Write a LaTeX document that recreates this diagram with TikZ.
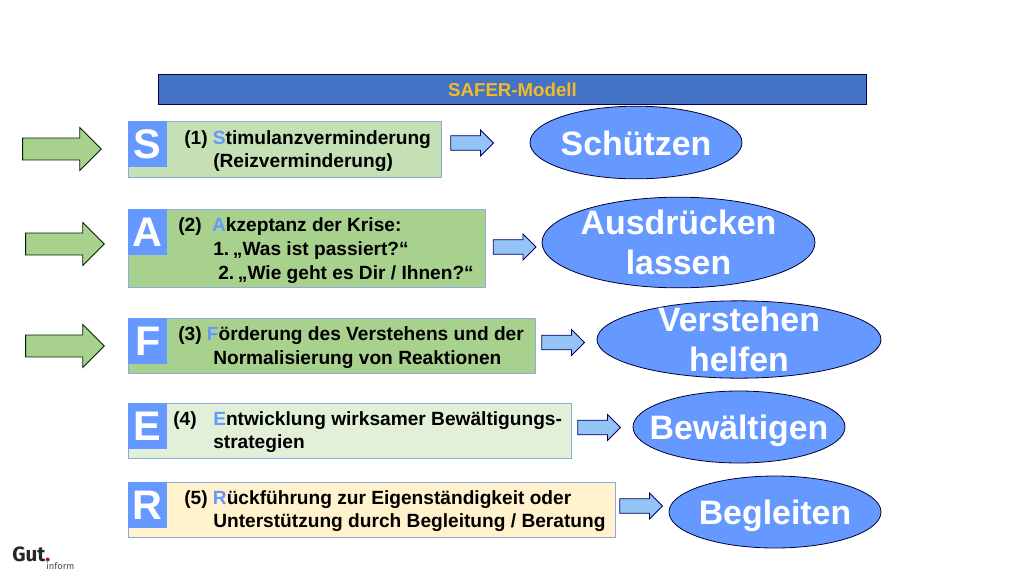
\documentclass[tikz,border=0pt]{standalone}
\usepackage{fontspec}
\setmainfont{Liberation Sans}
\newfontfamily\logofont{Fira Sans}
\usetikzlibrary{shapes.geometric,shapes.arrows}
\definecolor{letterblue}{HTML}{6699FF}
\definecolor{boxedge}{HTML}{8FAADC}
\definecolor{headblue}{HTML}{4472C4}
\definecolor{headgold}{HTML}{F2BA2A}
\definecolor{midgreen}{HTML}{A9D18E}
\definecolor{palegreen}{HTML}{C5E0B4}
\definecolor{mintgreen}{HTML}{E2F0D9}
\definecolor{paleyellow}{HTML}{FFF2CC}
\definecolor{smallblue}{HTML}{94C4F5}
\tikzset{
  modelbox/.style={draw=boxedge,line width=0.8pt,anchor=north west,inner sep=0pt,minimum height=#1*0.75pt},
  lettersq/.style={fill=letterblue,anchor=north west,inner sep=0pt,minimum width=29.25pt,minimum height=34.5pt,text=white,font=\bfseries\fontsize{31}{31}\selectfont},
  line/.style={anchor=base west,inner sep=0pt,font=\bfseries\fontsize{14.35}{16}\selectfont},
  bigarrow/.style={single arrow,draw=black!70!green!40!black,fill=midgreen,line width=0.6pt,inner sep=7.9pt,minimum height=59pt,minimum width=32pt,single arrow head extend=7.9pt,single arrow tip angle=90},
  smallarrow/.style={single arrow,draw=blue!40!black,fill=smallblue,line width=0.6pt,inner sep=5.2pt,minimum height=32pt,minimum width=19pt,single arrow head extend=4.2pt,single arrow tip angle=90},
  oval/.style={ellipse,draw=black!80!blue,fill=letterblue,line width=0.6pt,inner sep=0pt},
  ovaltext/.style={align=center,text=white,font=\bfseries\fontsize{25.4}{30}\selectfont}
}
\begin{document}
\begin{tikzpicture}[x=0.75pt,y=-0.75pt]
\useasboundingbox (0,0) rectangle (1024,576);
% header
\node[draw=black!70!blue,fill=headblue,line width=0.7pt,anchor=north west,minimum width=531pt,minimum height=23.2pt,inner sep=0pt,text=headgold,font=\bfseries\fontsize{14}{16}\selectfont] (header) at (158,73.5) {SAFER-Modell};
% boxes
\node[modelbox=56,fill=palegreen,minimum width=234.75pt] (boxS) at (128,121) {};
\node[modelbox=78,fill=midgreen,minimum width=267.75pt] (boxA) at (128,209) {};
\node[modelbox=55,fill=midgreen,minimum width=305.25pt] (boxF) at (128,318) {};
\node[modelbox=55,fill=mintgreen,minimum width=332.25pt] (boxE) at (128,403) {};
\node[modelbox=55,fill=paleyellow,minimum width=365.25pt] (boxR) at (128,482) {};
\node[lettersq] (letS) at (boxS.north west) {S};
\node[lettersq] (letA) at (boxA.north west) {A};
\node[lettersq] (letF) at (boxF.north west) {F};
\node[lettersq] (letE) at (boxE.north west) {E};
\node[lettersq] (letR) at (boxR.north west) {R};
% texts
\node[line] (s1) at (184,144) {(1) \textcolor{letterblue}{S}timulanzverminderung};
\node[line] (s2) at (213,167) {(Reizverminderung)};
\node[line] (a1) at (178,231) {(2)\hspace{0.55em}\textcolor{letterblue}{A}kzeptanz der Krise:};
\node[line] (a2) at (213,255) {1.\kern-2.5pt{} „Was ist passiert?“};
\node[line] (a3) at (218,279) {2.\kern-2.5pt{} „Wie geht es Dir / Ihnen?“};
\node[line] (f1) at (178,340) {(3) \textcolor{letterblue}{F}örderung des Verstehens und der};
\node[line] (f2) at (213,364) {Normalisierung von Reaktionen};
\node[line] (e0) at (173,425) {(4)};
\node[line] (e1) at (213,425) {\textcolor{letterblue}{E}ntwicklung wirksamer Bewältigungs-};
\node[line] (e2) at (213,448) {strategien};
\node[line] (r1) at (184,504) {(5) \textcolor{letterblue}{R}ückführung zur Eigenständigkeit oder};
\node[line] (r2) at (213,527) {Unterstützung durch Begleitung / Beratung};
% arrows
\node[bigarrow] (inS) at (56.5,149) {};
\node[bigarrow] (inA) at (59.5,244) {};
\node[bigarrow] (inF) at (59.5,346) {};
\node[smallarrow] (outS) at (468.5,143) {};
\node[smallarrow] (outA) at (511,247) {};
\node[smallarrow] (outF) at (559.5,342.5) {};
\node[smallarrow] (outE) at (595.5,427.5) {};
\node[smallarrow] (outR) at (637.5,506) {};
% ovals
\node[oval,minimum width=159pt,minimum height=54.5pt] (schuetzen) at (636,142.5) {};
\node[oval,minimum width=204.75pt,minimum height=68pt] (ausdruecken) at (678.5,242.5) {};
\node[oval,minimum width=213pt,minimum height=58pt] (verstehen) at (739,339.5) {};
\node[oval,minimum width=159pt,minimum height=54pt] (bewaeltigen) at (739,427) {};
\node[oval,minimum width=159pt,minimum height=54pt] (begleiten) at (775,512) {};
\node[ovaltext,yshift=-1pt] (tschuetzen) at (schuetzen) {Schützen};
\node[ovaltext] (tausdruecken) at (ausdruecken) {Ausdrücken\\lassen};
\node[ovaltext] (tverstehen) at (verstehen) {Verstehen\\helfen};
\node[ovaltext,yshift=-3pt] (tbewaeltigen) at (bewaeltigen) {Bewältigen};
\node[ovaltext,yshift=-3pt] (tbegleiten) at (begleiten) {Begleiten};
% logo
\node[anchor=base west,inner sep=0pt,text=black!85,font=\logofont\bfseries\fontsize{15.5}{15.5}\selectfont] (logo) at (12,561.5) {Gut\textcolor{red!70!black}{.}};
\node[anchor=base west,inner sep=0pt,text=black!70,font=\logofont\fontsize{7}{7}\selectfont] (inform) at (46,569.5) {inform};
\end{tikzpicture}
\end{document}
